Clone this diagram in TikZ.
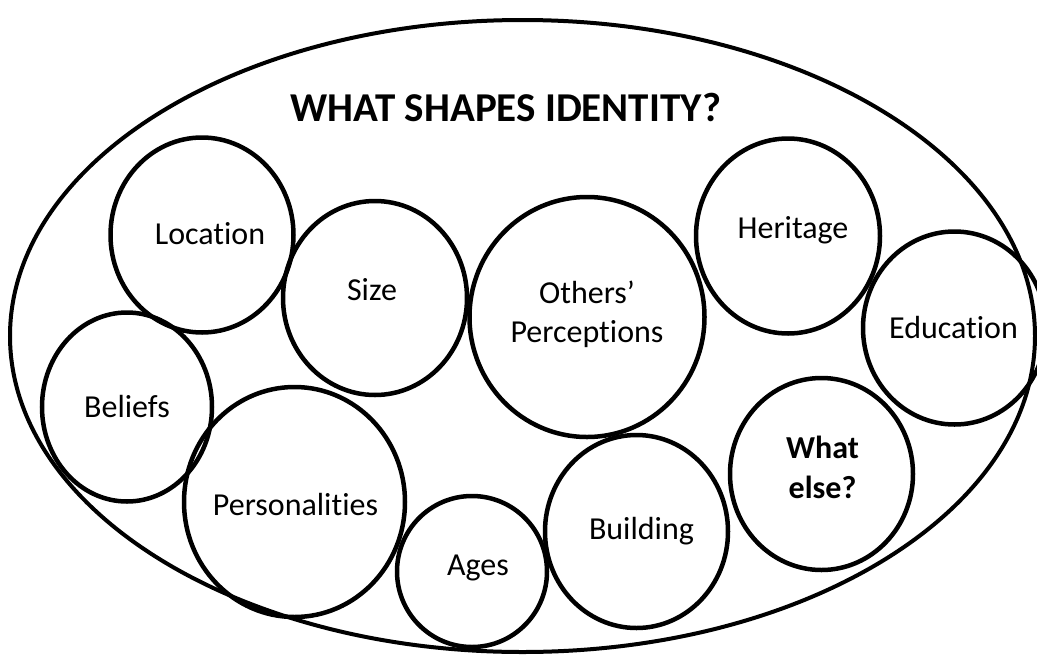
\documentclass[tikz,border=0pt]{standalone}
\usepackage{fontspec}
\setmainfont{Carlito}[Ligatures=CommonOff]
\begin{document}
\begin{tikzpicture}[x=1pt,y=-1pt]
        \tikzset{ring/.style={line width=4.5pt},
                 lbl/.style={font=\fontsize{32}{39}\selectfont, align=center, inner sep=0pt}}
        \useasboundingbox (0,0) rectangle (1037,654);

        \coordinate (C) at (522.5,336);
        \coordinate (LOC) at (202,235);
        \coordinate (SIZ) at (375,298);
        \coordinate (OTH) at (587,317);
        \coordinate (HER) at (788,236);
        \coordinate (EDU) at (954.5,328);
        \coordinate (BEL) at (127,407);
        \coordinate (PER) at (294.5,502);
        \coordinate (AGE) at (472,571.5);
        \coordinate (BUI) at (636.5,531.5);
        \coordinate (ELS) at (821.5,474);

        \draw [line width=4pt] (C) ellipse [x radius=512.5pt, y radius=316pt];

        \draw [ring] (LOC) ellipse [x radius=91.5pt, y radius=97.5pt];
        \draw [ring] (SIZ) ellipse [x radius=92pt, y radius=97pt];
        \draw [ring] (OTH) ellipse [x radius=117.5pt, y radius=120pt];
        \draw [ring] (HER) ellipse [x radius=92pt, y radius=97.5pt];
        \draw [ring] (EDU) ellipse [x radius=91.5pt, y radius=96.5pt];
        \draw [ring] (BEL) ellipse [x radius=85pt, y radius=94.5pt];
        \draw [ring] (PER) ellipse [x radius=110.5pt, y radius=115pt];
        \draw [ring] (AGE) ellipse [x radius=75pt, y radius=75.5pt];
        \draw [ring] (BUI) ellipse [x radius=91.5pt, y radius=96.5pt];
        \draw [ring] (ELS) ellipse [x radius=91.5pt, y radius=96pt];

        \node [font=\bfseries\fontsize{41}{48}\selectfont] (title) at (506,107) {WHAT SHAPES IDENTITY?};

        \node [lbl] (location) at ([shift={(8,-1)}]LOC) {Location};
        \node [lbl] (size) at ([shift={(-3,-8)}]SIZ) {Size};
        \node [lbl] (others) at ([shift={(0,-3)}]OTH) {Others’\\Perceptions};
        \node [lbl] (heritage) at ([shift={(5,-6)}]HER) {Heritage};
        \node [lbl] (education) at ([shift={(-1,0)}]EDU) {Education};
        \node [lbl] (beliefs) at (BEL) {Beliefs};
        \node [lbl] (personalities) at ([shift={(1,3)}]PER) {Personalities};
        \node [lbl] (ages) at ([shift={(6,-4)}]AGE) {Ages};
        \node [lbl] (building) at ([shift={(5,0)}]BUI) {Building};
        \node [lbl, font=\bfseries\fontsize{32}{40}\selectfont] (whatelse) at ([shift={(1,-7)}]ELS) {What\\else?};
    \end{tikzpicture}
\end{document}
